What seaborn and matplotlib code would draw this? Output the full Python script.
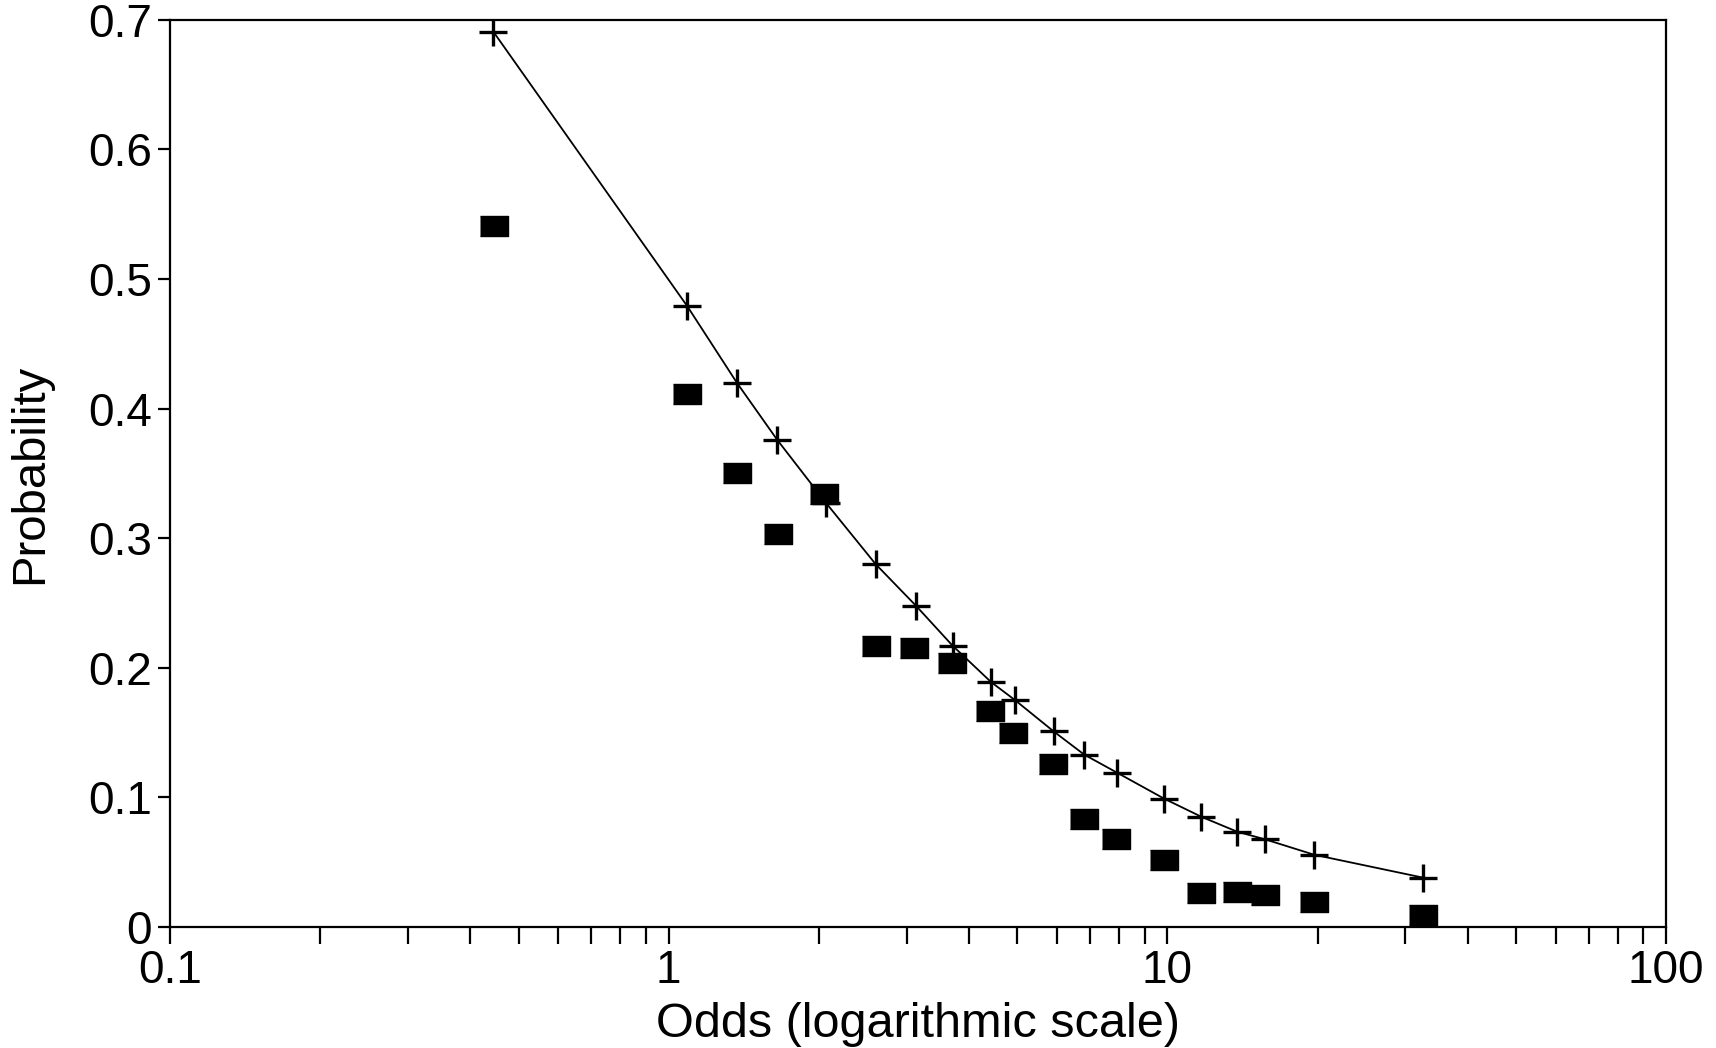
import matplotlib
matplotlib.use('Agg')
import matplotlib.pyplot as plt
import seaborn as sns
import pandas as pd
from matplotlib.ticker import LogLocator, NullFormatter

sns.set_theme(style='ticks')
plt.rcParams['font.family'] = ['Liberation Sans', 'DejaVu Sans']
plt.rcParams['text.color'] = 'black'
plt.rcParams['axes.labelcolor'] = 'black'

# fitted curve (plus markers)
fit_odds = [0.445, 1.09, 1.37, 1.65, 2.07, 2.6, 3.13, 3.71, 4.43, 4.95,
            5.91, 6.81, 7.93, 9.85, 11.7, 13.8, 15.7, 19.7, 32.6]
fit_prob = [0.691, 0.479, 0.420, 0.376, 0.327, 0.280, 0.248, 0.217, 0.189,
            0.175, 0.151, 0.133, 0.119, 0.099, 0.085, 0.0735, 0.0676,
            0.0557, 0.038]

# observed values (filled squares)
obs_odds = [0.446, 1.09, 1.37, 1.66, 2.05, 2.6, 3.1, 3.7, 4.4, 4.9,
            5.9, 6.8, 7.9, 9.85, 11.7, 13.8, 15.7, 19.7, 32.6]
obs_prob = [0.541, 0.411, 0.350, 0.303, 0.334, 0.217, 0.215, 0.204, 0.167,
            0.150, 0.126, 0.083, 0.068, 0.052, 0.026, 0.027, 0.0245,
            0.019, 0.009]

fit = pd.DataFrame({'odds': fit_odds, 'prob': fit_prob})
obs = pd.DataFrame({'odds': obs_odds, 'prob': obs_prob})

fig = plt.figure(figsize=(17.16, 10.48), dpi=100)
ax = fig.add_axes([0.099, 0.1155, 0.872, 0.8655])

rect = [(-0.7, -0.5), (0.7, -0.5), (0.7, 0.5), (-0.7, 0.5)]
ax.plot(obs['odds'], obs['prob'], linestyle='none', marker=rect,
        markersize=20, color='black', zorder=3)
sns.lineplot(data=fit, x='odds', y='prob', ax=ax, color='black',
             linewidth=1.3, marker='+', markersize=20, markeredgewidth=2.4,
             markeredgecolor='black', estimator=None, sort=False, zorder=4)

ax.set_xscale('log')
ax.set_xlim(0.1, 100)
ax.set_ylim(0, 0.7)
ax.set_xticks([0.1, 1, 10, 100])
ax.set_xticklabels(['0.1', '1', '10', '100'])
ax.xaxis.set_minor_locator(LogLocator(base=10, subs=range(2, 10)))
ax.xaxis.set_minor_formatter(NullFormatter())
ax.set_yticks([0, 0.1, 0.2, 0.3, 0.4, 0.5, 0.6, 0.7])
ax.set_yticklabels(['0', '0.1', '0.2', '0.3', '0.4', '0.5', '0.6', '0.7'])

for s in ax.spines.values():
    s.set_linewidth(1.6)
    s.set_color('black')
ax.tick_params(axis='both', which='major', direction='out', length=12,
               width=1.6, labelsize=33, colors='black', labelcolor='black',
               pad=4)
ax.tick_params(axis='x', which='minor', direction='out', length=12,
               width=1.6, colors='black')
ax.tick_params(axis='y', which='major', length=9)

ax.set_xlabel('Odds (logarithmic scale)', fontsize=35, labelpad=6,
              color='black')
ax.set_ylabel('Probability', fontsize=34, labelpad=26, color='black')

fig.savefig('out.png', dpi=100, facecolor='white')
